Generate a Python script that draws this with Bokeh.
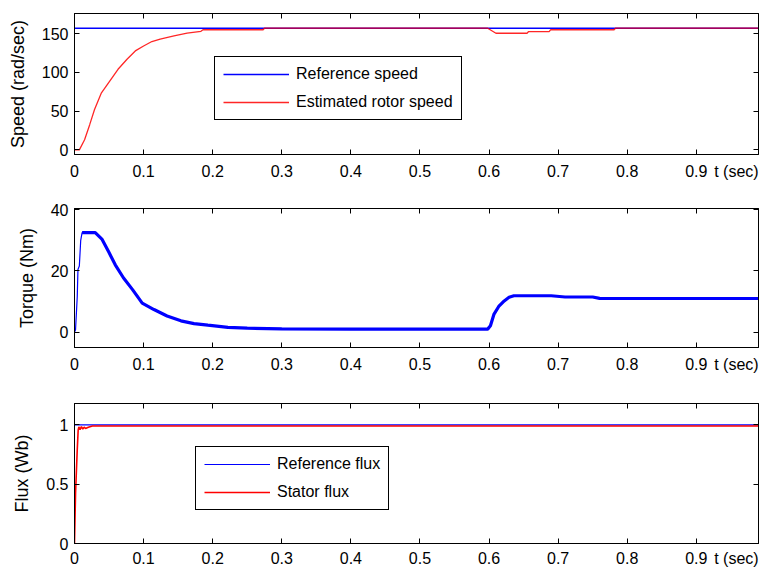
from bokeh.plotting import figure
from bokeh.models import Range1d, FixedTicker, LinearAxis, CustomJSTickFormatter
from bokeh.layouts import column
from bokeh.embed import file_html
from bokeh.resources import INLINE

# ---------------- data ----------------
x_ticks = [0.0, 0.1, 0.2, 0.3, 0.4, 0.5, 0.6, 0.7, 0.8, 0.9]
x_tick_labels = ["0", "0.1", "0.2", "0.3", "0.4", "0.5", "0.6", "0.7", "0.8", "0.9"]
x_axis_text = "t (sec)"
x_axis_text_pos = 0.958

speed_ticks = [0, 50, 100, 150]
torque_ticks = [0, 20, 40]
flux_ticks = [0.0, 0.5, 1.0]
flux_tick_labels = ["0", "0.5", "1"]

ref_speed_t = [0.0, 1.0]
ref_speed = [157, 157]

est_speed_t = [0.0, 0.007, 0.0146, 0.022, 0.029, 0.039, 0.051, 0.063, 0.076, 0.088,
               0.1, 0.112, 0.124, 0.144, 0.163, 0.183, 0.186, 0.273, 0.275, 0.598,
               0.61, 0.655, 0.657, 0.687, 0.689, 0.781, 0.783, 1.0]
est_speed = [0, 0, 13, 32.5, 52, 73.6, 88.7, 104, 117, 127.7,
             134, 139.8, 143, 147, 150.6, 153, 155, 155, 157, 157,
             150.5, 150.5, 152.5, 152.5, 155, 155, 157, 157]

torque_t = [0.0, 0.0015, 0.004, 0.005, 0.007, 0.009, 0.011, 0.02, 0.03, 0.04,
            0.05, 0.059, 0.071, 0.084, 0.098, 0.115, 0.134, 0.154, 0.173, 0.193,
            0.222, 0.25, 0.3, 0.4, 0.5, 0.598, 0.602, 0.607, 0.614, 0.622,
            0.629, 0.636, 0.69, 0.71, 0.75, 0.76, 1.0]
torque = [0, 0.8, 11.7, 20.5, 21.6, 30, 32.5, 32.5, 32.5, 30.3,
          26, 22, 17.7, 13.9, 9.5, 7.4, 5.3, 3.7, 2.8, 2.3,
          1.6, 1.3, 1.1, 1.0, 1.0, 1.0, 2.1, 5.8, 8.4, 10.2,
          11.4, 11.9, 11.9, 11.5, 11.5, 11.05, 11.0]

ref_flux_t = [0.0, 1.0]
ref_flux = [1.0, 1.0]

stator_flux_t = [0.0, 0.0015, 0.0039, 0.0053, 0.0063, 0.008, 0.010, 0.012, 0.014,
                 0.016, 0.02, 0.026, 1.0]
stator_flux = [0.0, 0.42, 0.78, 0.955, 0.983, 0.96, 0.985, 0.965, 0.98,
               0.97, 0.98, 0.99, 0.99]

FONT = "Liberation Sans"
BLANK = CustomJSTickFormatter(code="return ''")


def base_axis(ax, ticks):
    ax.ticker = FixedTicker(ticks=ticks)
    ax.minor_tick_in = 0
    ax.minor_tick_out = 0
    ax.axis_line_color = "black"
    ax.major_tick_line_color = "black"
    ax.major_label_text_font = FONT
    ax.major_label_text_font_size = "16px"
    ax.major_label_text_color = "black"
    ax.axis_label_text_font = FONT
    ax.axis_label_text_font_style = "normal"
    ax.axis_label_text_font_size = "18px"
    ax.axis_label_text_color = "black"


def tick_only_axis(ticks):
    ax = LinearAxis()
    base_axis(ax, ticks)
    ax.major_tick_in = 5
    ax.major_tick_out = 0
    ax.major_label_standoff = 0
    ax.formatter = BLANK
    return ax


def make_fig(height, top, bottom, yr, yticks, ylabel, ytick_labels=None, xstand=8):
    p = figure(width=764, height=height, output_backend="svg", toolbar_location=None,
               x_range=Range1d(0, 0.99), y_range=Range1d(*yr),
               x_axis_location=None, y_axis_location=None,
               min_border_left=74, min_border_right=6,
               min_border_top=top, min_border_bottom=bottom)
    p.xgrid.visible = False
    p.ygrid.visible = False
    p.outline_line_color = "black"
    p.outline_line_alpha = 1
    p.background_fill_color = "white"
    p.border_fill_color = "white"

    # bottom: inside tick marks, then a label-only axis holding the tick texts
    p.add_layout(tick_only_axis(x_ticks), "below")
    xl = LinearAxis()
    base_axis(xl, x_ticks + [x_axis_text_pos])
    xl.major_tick_in = 0
    xl.major_tick_out = 0
    xl.axis_line_color = None
    xl.major_tick_line_color = None
    xl.major_label_standoff = xstand
    ov = {float(k): v for k, v in zip(x_ticks, x_tick_labels)}
    ov[x_axis_text_pos] = x_axis_text
    xl.major_label_overrides = ov
    p.add_layout(xl, "below")

    # left axis with tick labels and title
    yl = LinearAxis()
    base_axis(yl, yticks)
    yl.major_tick_in = 5
    yl.major_tick_out = 0
    yl.major_label_standoff = 6
    if ytick_labels:
        yl.major_label_overrides = {float(k): v for k, v in zip(yticks, ytick_labels)}
    yl.axis_label = ylabel
    yl.axis_label_standoff = 11
    p.add_layout(yl, "left")

    p.add_layout(tick_only_axis(x_ticks), "above")
    p.add_layout(tick_only_axis(yticks), "right")
    return p


def style_legend(p, loc):
    lg = p.legend[0]
    lg.location = loc
    lg.padding = 8
    lg.spacing = 10
    lg.glyph_width = 66
    lg.glyph_height = 18
    lg.label_height = 18
    lg.label_standoff = 7
    lg.margin = 0
    lg.label_text_font = FONT
    lg.label_text_font_size = "16px"
    lg.label_text_color = "black"
    lg.border_line_color = "black"
    lg.border_line_width = 1
    lg.border_line_alpha = 1
    lg.background_fill_color = "white"
    lg.background_fill_alpha = 1


# ---------------- speed ----------------
p1 = make_fig(195, 13, 41, (-6, 176), speed_ticks, "Speed (rad/sec)", xstand=8)
p1.line(ref_speed_t, ref_speed, line_color="#0000ff", line_width=1.5,
        legend_label="Reference speed")
p1.line(est_speed_t, est_speed, line_color="#ff0000", line_width=1.3, line_alpha=0.85,
        legend_label="Estimated rotor speed")
style_legend(p1, (140, 34))

# ---------------- torque ----------------
p2 = make_fig(195, 13, 43, (-5, 40.4), torque_ticks, "Torque (Nm)", xstand=8)
p2.line(torque_t, torque, line_color="#0000ff", line_width=1.2)
p2.line(torque_t[6:], torque[6:], line_color="#0000ff", line_width=3.2)

# ---------------- flux ----------------
p3 = make_fig(182, 13, 29, (0, 1.18), flux_ticks, "Flux (Wb)", flux_tick_labels, xstand=6)
p3.line(ref_flux_t, ref_flux, line_color="#0000ff", line_width=1.2,
        legend_label="Reference flux")
p3.line(stator_flux_t, stator_flux, line_color="#ff0000", line_width=1.6,
        legend_label="Stator flux")
style_legend(p3, (121, 33))

layout = column(p1, p2, p3, spacing=0)
open("out.html", "w").write(file_html(layout, INLINE))
